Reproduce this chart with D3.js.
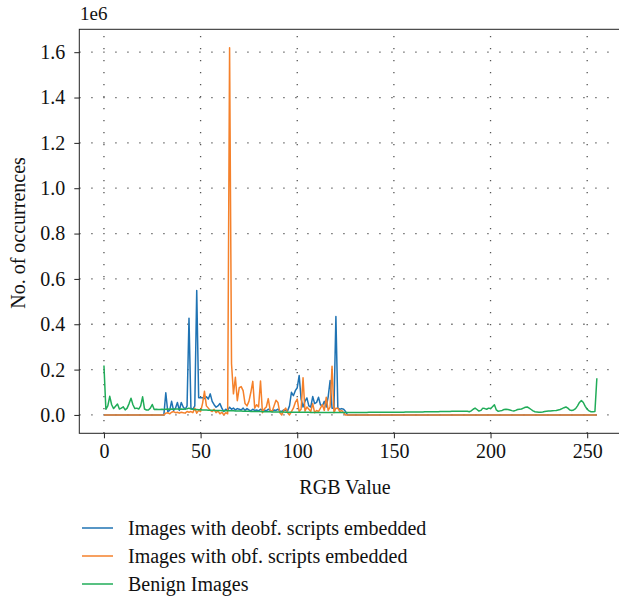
<!DOCTYPE html>
<html>
<head>
<meta charset="utf-8">
<script src="https://cdn.jsdelivr.net/npm/d3@7"></script>
<style>
  html, body { margin: 0; padding: 0; background: #fff; }
  svg { display: block; }
  text { font-family: "Liberation Serif", "DejaVu Serif", serif; fill: #111; }
</style>
</head>
<body>
<svg id="chart" width="619" height="597"></svg>
<script>
// RGB value categories (0..255)
const rgbValues = d3.range(256);

// Occurrence counts, in thousands
const deobfCounts = [
  0,0,0,0,0,0,0,0,0,0,
  0,0,0,0,0,0,0,0,0,0,
  0,0,0,0,0,0,0,0,0,0,
  0,0,98,15,20,60,20,30,55,20,
  55,35,25,40,427,30,25,40,549,76,
  76,76,72,80,70,93,60,45,34,40,
  50,30,15,25,20,34,25,30,22,28,
  25,22,30,20,28,22,18,25,20,22,
  18,25,20,22,18,25,20,15,22,20,
  25,18,15,22,20,18,40,100,85,107,
  120,174,70,35,60,75,40,35,81,50,
  55,78,45,40,60,35,80,152,30,30,
  434,30,25,28,25,15,0,0,0,0,
  0,0,0,0,0,0,0,0,0,0,
  0,0,0,0,0,0,0,0,0,0,
  0,0,0,0,0,0,0,0,0,0,
  0,0,0,0,0,0,0,0,0,0,
  0,0,0,0,0,0,0,0,0,0,
  0,0,0,0,0,0,0,0,0,0,
  0,0,0,0,0,0,0,0,0,0,
  0,0,0,0,0,0,0,0,0,0,
  0,0,0,0,0,0,0,0,0,0,
  0,0,0,0,0,0,0,0,0,0,
  0,0,0,0,0,0,0,0,0,0,
  0,0,0,0,0,0,0,0,0,0,
  0,0,0,0,0,0
];

const obfCounts = [
  0,0,0,0,0,0,0,0,0,0,
  0,0,0,0,0,0,0,0,0,0,
  0,0,0,0,0,0,0,0,0,0,
  0,0,8,10,5,12,15,10,12,8,
  12,10,8,15,12,15,10,30,8,20,
  15,50,104,40,30,20,15,25,10,18,
  5,12,0,10,5,1620,226,93,166,63,
  120,125,107,50,40,60,100,148,30,45,
  35,150,10,27,35,72,20,15,40,65,
  55,10,0,20,30,10,0,15,30,55,
  70,15,25,164,17,35,25,15,50,10,
  20,15,30,45,20,78,20,35,215,10,
  30,30,15,20,10,0,0,0,0,0,
  0,0,0,0,0,0,0,0,0,0,
  0,0,0,0,0,0,0,0,0,0,
  0,0,0,0,0,0,0,0,0,0,
  0,0,0,0,0,0,0,0,0,0,
  0,0,0,0,0,0,0,0,0,0,
  0,0,0,0,0,0,0,0,0,0,
  0,0,0,0,0,0,0,0,0,0,
  0,0,0,0,0,0,0,0,0,0,
  0,0,0,0,0,0,0,0,0,0,
  0,0,0,0,0,0,0,0,0,0,
  0,0,0,0,0,0,0,0,0,0,
  0,0,0,0,0,0,0,0,0,0,
  0,0,0,0,0,0
];

const benignCounts = [
  218,25,40,82,45,28,38,48,26,30,
  36,22,30,50,74,45,28,30,26,40,
  80,26,22,22,30,46,24,25,24,24,
  25,24,25,26,25,26,25,26,26,25,
  26,25,26,27,30,26,25,24,24,23,
  23,22,22,22,21,21,21,20,20,20,
  20,19,19,19,18,18,18,18,17,17,
  17,17,16,16,16,16,15,15,15,15,
  15,15,14,14,14,14,14,13,13,13,
  13,13,13,13,12,12,12,12,12,12,
  12,12,12,12,12,12,12,11,11,11,
  11,11,11,11,11,11,11,11,11,11,
  11,11,11,11,11,11,11,11,11,11,
  11,11,11,11,11,11,11,12,12,12,
  12,12,12,12,12,12,12,12,12,12,
  12,12,12,12,12,12,13,13,13,13,
  13,13,13,13,13,13,14,14,14,14,
  14,14,14,14,15,15,15,15,15,15,
  16,16,16,16,16,16,16,16,16,14,
  18,25,30,24,17,20,30,28,25,30,
  28,36,45,22,16,18,20,24,25,24,
  22,19,17,20,24,25,26,30,34,35,
  30,24,18,14,13,12,12,13,15,16,
  17,17,18,19,20,22,24,28,32,35,
  30,22,20,22,28,40,55,64,55,38,
  25,18,14,14,15,162
];

const seriesNames = [
  "Images with deobf. scripts embedded",
  "Images with obf. scripts embedded",
  "Benign Images"
];
const seriesColors = ["#1f73b3", "#f5812b", "#20ac58"];

const xTicks = [0, 50, 100, 150, 200, 250];
const yTicks = [0, 0.2, 0.4, 0.6, 0.8, 1.0, 1.2, 1.4, 1.6];
const xLabel = "RGB Value";
const yLabel = "No. of occurrences";
const offsetLabel = "1e6";

// ---- layout ----
const svg = d3.select("#chart");
const pLeft = 79.3, pRight = 621.5, pTop = 29.3, pBottom = 433.3;

const x = d3.scaleLinear().domain([-12.75, 267.75]).range([pLeft, pRight]);
const y = d3.scaleLinear().domain([-0.081, 1.701]).range([pBottom, pTop]);

// grid
const grid = svg.append("g");
grid.selectAll("line.vg").data(xTicks).join("line")
  .attr("x1", d => x(d)).attr("x2", d => x(d))
  .attr("y1", pBottom).attr("y2", pTop)
  .attr("stroke", "#555").attr("stroke-width", 1.3)
  .attr("stroke-dasharray", "1.3,10.7");
grid.selectAll("line.hg").data(yTicks).join("line")
  .attr("x1", pLeft).attr("x2", pRight)
  .attr("y1", d => y(d)).attr("y2", d => y(d))
  .attr("stroke", "#555").attr("stroke-width", 1.3)
  .attr("stroke-dasharray", "1.3,10.7");

// lines
const allSeries = [deobfCounts, obfCounts, benignCounts];
const line = d3.line()
  .x((d, i) => x(rgbValues[i]))
  .y(d => y(d / 1000));
svg.append("g")
  .selectAll("path").data(allSeries).join("path")
  .attr("d", d => line(d))
  .attr("fill", "none")
  .attr("stroke", (d, i) => seriesColors[i])
  .attr("stroke-width", 1.5)
  .attr("stroke-linejoin", "round");

// frame
svg.append("rect")
  .attr("x", pLeft).attr("y", pTop)
  .attr("width", pRight - pLeft).attr("height", pBottom - pTop)
  .attr("fill", "none").attr("stroke", "#222").attr("stroke-width", 1);

// axes
const xAxis = svg.append("g").attr("transform", `translate(0,${pBottom})`)
  .call(d3.axisBottom(x).tickValues(xTicks).tickSize(5).tickPadding(6).tickFormat(d3.format("d")));
const yAxis = svg.append("g").attr("transform", `translate(${pLeft},0)`)
  .call(d3.axisLeft(y).tickValues(yTicks).tickSize(5).tickPadding(9).tickFormat(d3.format(".1f")));
[xAxis, yAxis].forEach(a => {
  a.select(".domain").remove();
  a.selectAll(".tick line").attr("stroke", "#222");
  a.selectAll(".tick text").attr("font-family", "Liberation Serif").attr("font-size", 20).attr("fill", "#111");
});

// labels
svg.append("text").attr("x", 345).attr("y", 494).attr("text-anchor", "middle")
  .attr("font-size", 20).text(xLabel);
svg.append("text").attr("transform", "translate(25,233) rotate(-90)")
  .attr("text-anchor", "middle").attr("font-size", 20).text(yLabel);
svg.append("text").attr("x", 80).attr("y", 20).attr("font-size", 19).text(offsetLabel);

// legend
const legend = svg.append("g");
seriesNames.forEach((name, i) => {
  const yy = 528 + i * 28;
  legend.append("line").attr("x1", 82).attr("x2", 113)
    .attr("y1", yy).attr("y2", yy)
    .attr("stroke", seriesColors[i]).attr("stroke-width", 1.5);
  legend.append("text").attr("x", 128).attr("y", yy + 6.5)
    .attr("font-size", 20).text(name);
});
</script>
</body>
</html>
